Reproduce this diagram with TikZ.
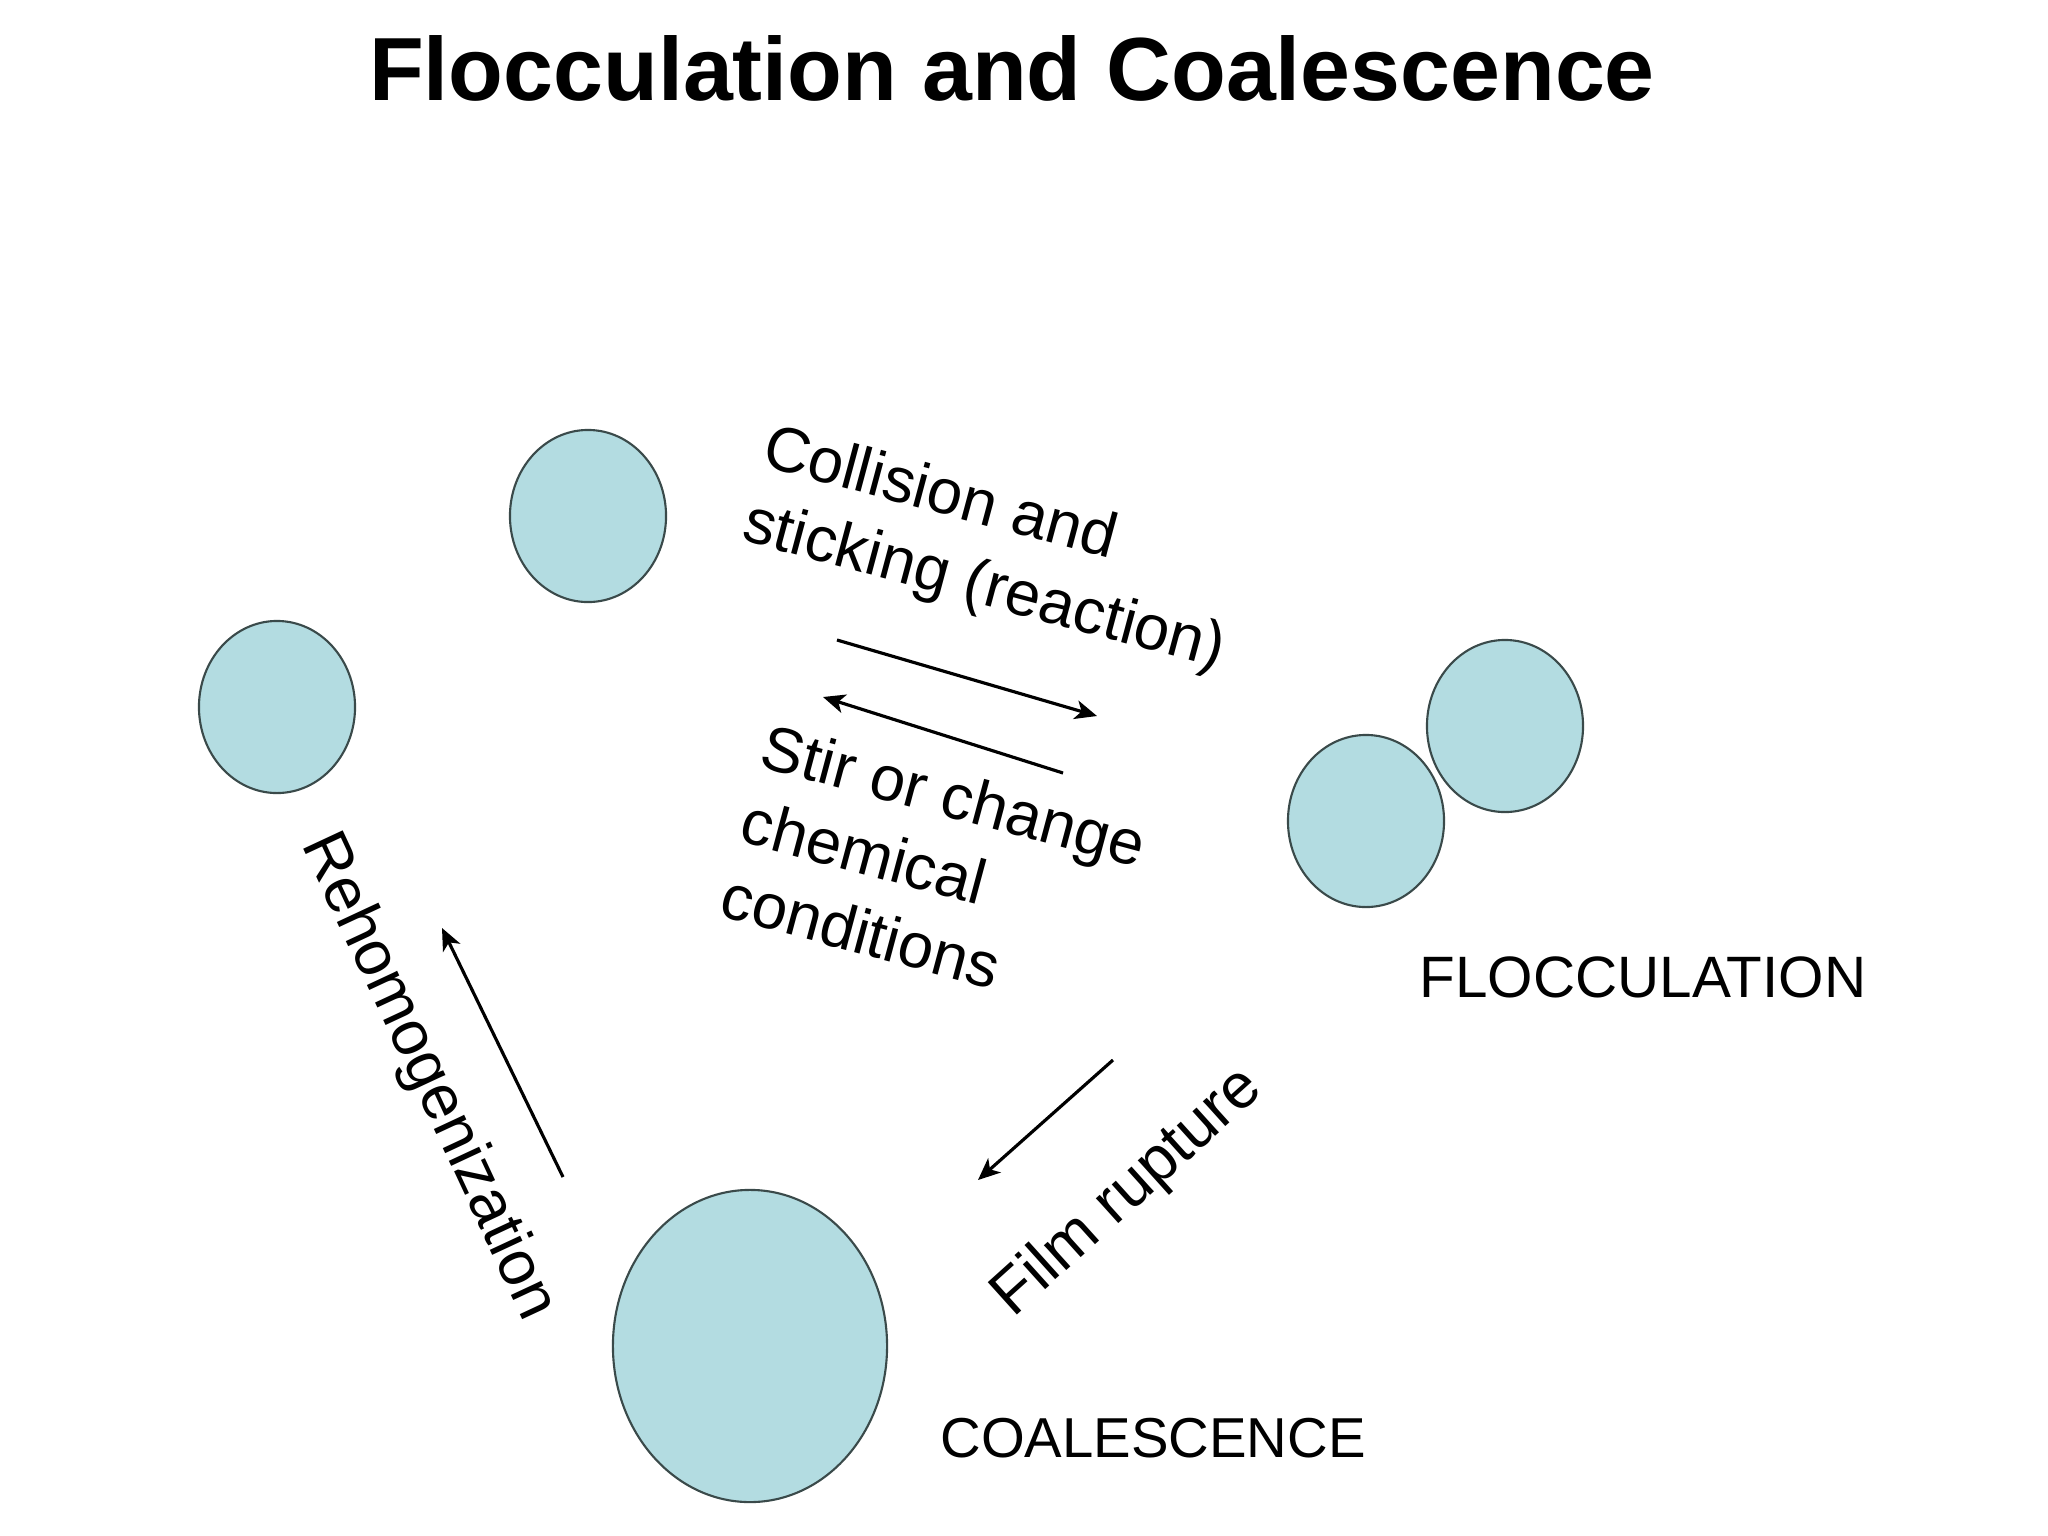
\documentclass[tikz,border=0pt]{standalone}
\usepackage{fontspec}
\usepackage{graphicx}
\setmainfont{Liberation Sans}
\usetikzlibrary{shapes.geometric, arrows.meta, positioning}
\definecolor{dropblue}{HTML}{B3DCE1}
\definecolor{dropline}{HTML}{3A4A4A}

\begin{document}
\begin{tikzpicture}[x=0.01cm, y=-0.01cm,
  drop/.style={ellipse, draw=dropline, line width=0.6pt, fill=dropblue, inner sep=0pt},
  small drop/.style={drop, minimum width=1.56cm, minimum height=1.72cm},
  handtext/.style={font=\fontsize{18}{22}\selectfont, align=left, inner sep=0pt},
  caplabel/.style={font=\fontsize{16}{16}\selectfont, inner sep=0pt},
  flow/.style={line width=0.9pt, -{Stealth[length=2.2mm, width=1.9mm, inset=0.6mm]}}]
  \useasboundingbox (0,0) rectangle (2048,1536);

  \node[anchor=base, font=\fontsize{25.5}{26}\selectfont\bfseries] (title) at (1012,100) {Flocculation and Coalescence};

  \node[small drop] (dropa) at (588,516) {};
  \node[small drop] (dropb) at (277,707) {};
  \node[small drop] (floca) at (1505,726) {};
  \node[small drop] (flocb) at (1366,821) {};
  \node[drop, minimum width=2.74cm, minimum height=3.12cm] (coal) at (750,1346) {};

  \node[handtext, rotate=-15] (collide) at (994,551) {Collision and\\sticking (reaction)};
  \node[handtext, rotate=-15] (stir) at (934,870) {Stir or change\\chemical\\conditions};
  \node[handtext, rotate=-65] (rehom) at (428,1077) {Rehomogenization};
  \node[handtext, rotate=42] (film) at (1128,1193) {Film rupture};
  \node[caplabel, font=\fontsize{16.6}{16}\selectfont] (floclab) at (1643,977) {FLOCCULATION};
  \node[caplabel] (coallab) at (1153,1438) {COALESCENCE};

  \coordinate (fwda) at (837,640);
  \coordinate (fwdb) at (1097,716);
  \coordinate (backa) at (1063,773);
  \coordinate (backb) at (823,697);
  \coordinate (rupa) at (1113,1060);
  \coordinate (rupb) at (978,1180);
  \coordinate (reha) at (563,1177);
  \coordinate (rehb) at (442,928);

  \draw[flow] (fwda) -- (fwdb);
  \draw[flow] (backa) -- (backb);
  \draw[flow] (rupa) -- (rupb);
  \draw[flow] (reha) -- (rehb);
\end{tikzpicture}
\end{document}
